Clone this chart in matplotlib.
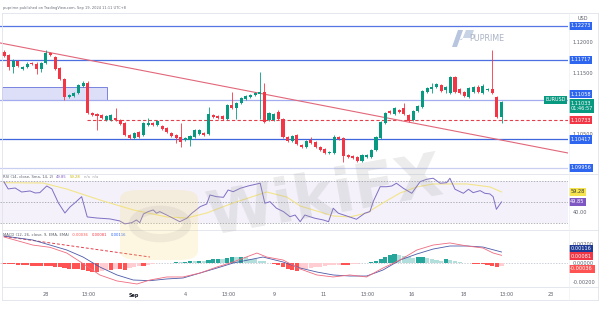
import matplotlib
matplotlib.use("Agg")
import matplotlib.pyplot as plt
from matplotlib.patches import Rectangle, FancyBboxPatch, Polygon, Circle
from matplotlib.transforms import blended_transform_factory

# ---------------- data ----------------
opens = [
    1.11848, 1.11799, 1.11603, 1.11701, 1.11570, 1.11603, 1.11668, 1.11652, 1.11570, 1.11668,
    1.11832, 1.11766, 1.11586, 1.11406, 1.11112, 1.11128, 1.11177, 1.11292, 1.11341, 1.10851,
    1.10834, 1.10818, 1.10736, 1.10736, 1.10769, 1.10736, 1.10687, 1.10491, 1.10442, 1.10540,
    1.10491, 1.10654, 1.10687, 1.10654, 1.10638, 1.10605, 1.10523, 1.10491, 1.10458, 1.10409,
    1.10409, 1.10458, 1.10507, 1.10523, 1.10507, 1.10818, 1.10801, 1.10801, 1.10752, 1.10981,
    1.10932, 1.11014, 1.11079, 1.11112, 1.11145, 1.11161, 1.11194, 1.10736, 1.10736, 1.10867,
    1.10752, 1.10458, 1.10393, 1.10491, 1.10327, 1.10294, 1.10409, 1.10376, 1.10294, 1.10262,
    1.10196, 1.10196, 1.10458, 1.10442, 1.10164, 1.10147, 1.10131, 1.10066, 1.10131, 1.10131,
    1.10245, 1.10442, 1.10687, 1.10883, 1.10834, 1.10900, 1.10932, 1.10818, 1.10736, 1.10883,
    1.10949, 1.11194, 1.11243, 1.11275, 1.11308, 1.11226, 1.11177, 1.11438, 1.11243, 1.11194,
    1.11112, 1.11194, 1.11275, 1.11177, 1.11226, 1.11243, 1.11112, 1.10785]
highs = [
    1.11881, 1.11815, 1.11733, 1.11717, 1.11619, 1.11684, 1.11684, 1.11684, 1.11684, 1.11881,
    1.11848, 1.11782, 1.11603, 1.11422, 1.11161, 1.11194, 1.11324, 1.11374, 1.11374, 1.10867,
    1.10851, 1.10834, 1.10818, 1.10834, 1.10932, 1.10752, 1.10703, 1.10507, 1.10540, 1.10556,
    1.10703, 1.10769, 1.10703, 1.10736, 1.10654, 1.10621, 1.10540, 1.10507, 1.10687, 1.10458,
    1.10491, 1.10589, 1.10589, 1.10540, 1.10949, 1.10834, 1.10818, 1.10818, 1.10998, 1.11194,
    1.11031, 1.11112, 1.11145, 1.11161, 1.11194, 1.11521, 1.11341, 1.10867, 1.10851, 1.10900,
    1.10769, 1.10474, 1.10491, 1.10507, 1.10344, 1.10409, 1.10458, 1.10393, 1.10311, 1.10278,
    1.10229, 1.10491, 1.10474, 1.10458, 1.10180, 1.10164, 1.10147, 1.10180, 1.10180, 1.10262,
    1.10474, 1.10720, 1.10867, 1.10900, 1.10949, 1.10916, 1.11014, 1.10834, 1.10900, 1.10981,
    1.11226, 1.11275, 1.11341, 1.11341, 1.11324, 1.11292, 1.11455, 1.11455, 1.11259, 1.11210,
    1.11275, 1.11292, 1.11308, 1.11324, 1.11259, 1.11881, 1.11128, 1.11047]
lows = [
    1.11766, 1.11553, 1.11504, 1.11603, 1.11553, 1.11586, 1.11635, 1.11488, 1.11521, 1.11652,
    1.11782, 1.11553, 1.11390, 1.11063, 1.11096, 1.11112, 1.11161, 1.11275, 1.10834, 1.10801,
    1.10572, 1.10752, 1.10720, 1.10720, 1.10720, 1.10654, 1.10474, 1.10425, 1.10425, 1.10442,
    1.10474, 1.10638, 1.10638, 1.10638, 1.10572, 1.10523, 1.10458, 1.10360, 1.10294, 1.10393,
    1.10311, 1.10442, 1.10491, 1.10474, 1.10491, 1.10769, 1.10752, 1.10736, 1.10736, 1.10916,
    1.10752, 1.10998, 1.11063, 1.11096, 1.11128, 1.10752, 1.10687, 1.10720, 1.10720, 1.10736,
    1.10442, 1.10376, 1.10376, 1.10327, 1.10278, 1.10278, 1.10344, 1.10278, 1.10229, 1.10180,
    1.10180, 1.10180, 1.10409, 1.10049, 1.10115, 1.10098, 1.10049, 1.10049, 1.10115, 1.10115,
    1.10229, 1.10425, 1.10671, 1.10834, 1.10818, 1.10851, 1.10818, 1.10703, 1.10720, 1.10867,
    1.10932, 1.11177, 1.11177, 1.11259, 1.11194, 1.11177, 1.11161, 1.11177, 1.11161, 1.11112,
    1.11096, 1.11177, 1.11177, 1.11161, 1.11210, 1.11161, 1.10769, 1.10687]
closes = [
    1.11782, 1.11603, 1.11701, 1.11619, 1.11603, 1.11652, 1.11652, 1.11570, 1.11668, 1.11832,
    1.11799, 1.11570, 1.11406, 1.11112, 1.11145, 1.11177, 1.11308, 1.11341, 1.10851, 1.10818,
    1.10801, 1.10769, 1.10801, 1.10818, 1.10736, 1.10671, 1.10491, 1.10442, 1.10523, 1.10458,
    1.10687, 1.10687, 1.10654, 1.10720, 1.10589, 1.10540, 1.10474, 1.10442, 1.10376, 1.10442,
    1.10474, 1.10572, 1.10572, 1.10491, 1.10834, 1.10785, 1.10769, 1.10752, 1.10981, 1.10932,
    1.11014, 1.11096, 1.11128, 1.11145, 1.11177, 1.11194, 1.10703, 1.10851, 1.10834, 1.10752,
    1.10458, 1.10393, 1.10474, 1.10344, 1.10294, 1.10393, 1.10360, 1.10294, 1.10245, 1.10196,
    1.10213, 1.10458, 1.10425, 1.10147, 1.10131, 1.10115, 1.10066, 1.10164, 1.10164, 1.10245,
    1.10458, 1.10703, 1.10851, 1.10851, 1.10932, 1.10867, 1.10834, 1.10720, 1.10883, 1.10965,
    1.11210, 1.11259, 1.11275, 1.11324, 1.11210, 1.11275, 1.11438, 1.11194, 1.11177, 1.11128,
    1.11259, 1.11275, 1.11194, 1.11292, 1.11243, 1.11177, 1.10785, 1.11033]

h_levels = [1.12273, 1.11717, 1.11058, 1.10417, 1.09956]
zone_x = [-0.4, 22.2]
zone_p = [1.11058, 1.11275]
dash_level = 1.10733
dash_start = 17.8
trend_x = [-0.86, 121.3]
trend_p = [1.11996, 1.10196]
last_price = 1.11033
countdown = "01:46:57"
plain_price_ticks = [1.12000, 1.11500, 1.10500]

rsi_x = [0, 0.9, 2.4, 3.8, 5.6, 6.7, 7.7, 9.2, 10.3, 11.7,
         13.1, 14.2, 15.3, 16.7, 17.9, 19.9, 22.8, 24.9, 26, 27.5,
         28.5, 29.2, 30, 31, 32.1, 32.8, 33.5, 35, 36.4, 37.8,
         39.3, 40.4, 42.2, 43.6, 44.3, 45.7, 47.2, 48.2, 49.3, 50.8,
         52.5, 55.1, 56.1, 57.2, 58.6, 60.1, 61.5, 62.6, 63.7, 64.7,
         65.8, 66.9, 68.7, 69.8, 70.8, 71.9, 73.7, 75.8, 77.6, 78.7,
         79.4, 80.9, 82.3, 83.4, 84.4, 85.9, 87.7, 89.5, 90.9, 92.3,
         93.8, 95.2, 95.9, 97, 98.8, 99.9, 100.9, 102.4, 103.4, 104.5,
         105.2, 105.9, 107]
rsi_v = [68.7, 62.1, 63.0, 59.2, 60.2, 58.3, 58.6, 64.9, 62.1, 48.9,
         39.4, 45.1, 49.2, 54.8, 35.7, 34.7, 33.8, 31.9, 29.1, 30.3,
         32.8, 30.3, 38.5, 40.7, 42.3, 39.2, 40.7, 37.5, 34.4, 31.2,
         34.4, 39.2, 45.4, 47.9, 56.4, 54.8, 54.2, 61.1, 59.5, 62.7,
         64.9, 67.5, 48.6, 50.1, 43.9, 40.7, 35.9, 37.5, 31.2, 37.5,
         35.9, 34.4, 32.8, 31.2, 43.9, 39.2, 36.6, 33.5, 39.2, 40.7,
         50.1, 64.2, 64.2, 64.9, 67.5, 62.7, 58.0, 69.0, 71.2, 72.2,
         67.5, 68.0, 72.2, 61.8, 58.0, 61.8, 58.6, 60.5, 58.0, 57.4,
         54.8, 42.9, 49.85]
rsi_ma_x = [0, 8.4, 13.5, 20.6, 27.8, 35, 39.3, 43.6, 49.3, 56.5, 60.8,
            63.7, 70.8, 74.4, 78, 81.5, 85.2, 88.8, 92.3, 99.6, 104.5, 107]
rsi_ma_v = [68, 67.7, 62, 51.7, 42.3, 35.7, 34.7, 39.4, 48.9, 59.2, 54.5,
            46, 36.6, 35.7, 39.4, 48.9, 58.3, 64, 66.8, 66.8, 64, 59.28]

macd_x = [0, 6.2, 9.9, 13.5, 17.8, 20.6, 24.3, 28.6, 31.4, 35, 38.5, 42.2, 45.8,
          49.3, 54.4, 56.5, 60, 63.7, 67.3, 70.8, 74.4, 78, 81.5, 85.2, 88.8, 92.3,
          95.9, 99.6, 103, 105.2, 107]
macd_v = [0.00274, 0.00189, 0.00165, 0.00105, -0.00032, -0.00126, -0.00189, -0.00221,
          -0.00179, -0.00147, -0.00147, -0.00105, -0.00042, 0.00011, 0.00105, 0.00063,
          0.00032, -0.00063, -0.00126, -0.00147, -0.00126, -0.00147, -0.00053, 0.00032,
          0.00137, 0.00189, 0.00211, 0.00179, 0.00158, 0.00105, 0.00081]
signal_x = [0, 6.2, 9.9, 13.5, 17, 20.6, 24.3, 27.8, 31.4, 35, 38.5, 42.2, 45.8, 49.3,
            55.7, 60, 63.7, 67.3, 70.8, 74.4, 78, 81.5, 85.2, 88.8, 92.3, 95.9, 99.6,
            103, 107]
signal_v = [0.00284, 0.00242, 0.00189, 0.00137, 0.00063, -0.00042, -0.00126, -0.00179,
            -0.00186, -0.00168, -0.00158, -0.00105, -0.00053, 0.0, 0.00063, 0.00011,
            -0.00053, -0.00095, -0.00126, -0.00137, -0.00137, -0.00074, 0.00032, 0.00095,
            0.00147, 0.00179, 0.00179, 0.00168, 0.00116]
hist = [
    -0.00011, -0.00011, -0.00011, -0.00021, -0.00021, -0.00021, -0.00032, -0.00032, -0.00032, -0.00032,
    -0.00032, -0.00042, -0.00042, -0.00053, -0.00063, -0.00063, -0.00063, -0.00074, -0.00084, -0.00095,
    -0.00095, -0.00084, -0.00074, -0.00074, -0.00063, -0.00063, -0.00074, -0.00053, -0.00042, -0.00032,
    -0.00032, -0.00021, -0.00011, 0.00005, 0.00005, 0.00005, 0.00005, 0.00007, 0.00007, 0.00011,
    0.00016, 0.00016, 0.00021, 0.00021, 0.00032, 0.00037, 0.00042, 0.00042, 0.00053, 0.00058,
    0.00058, 0.00063, 0.00058, 0.00047, 0.00037, 0.00026, 0.00016, 0.00005, -0.00011, -0.00021,
    -0.00042, -0.00063, -0.00074, -0.00079, -0.00068, -0.00063, -0.00053, -0.00047, -0.00042, -0.00032,
    -0.00026, -0.00021, -0.00016, -0.00016, -0.00016, -0.00011, -0.00008, -0.00003, 0.00003, 0.00011,
    0.00026, 0.00042, 0.00063, 0.00079, 0.00095, 0.00084, 0.00074, 0.00063, 0.00053, 0.00063,
    0.00068, 0.00053, 0.00042, 0.00032, 0.00021, 0.00042, 0.00032, 0.00021, 0.00013, 0.00005,
    -0.00005, -0.00007, -0.00007, -0.00011, -0.00016, -0.00032, -0.00042, -0.00036]
macd_dash_x = [0, 31.4]
macd_dash_v = [0.0028, 0.00063]

tick_pos = [9.0, 18.1, 28.0, 39.1, 48.2, 58.1, 68.8, 78.1, 87.7, 98.9, 108.0, 117.6]
tick_lab = ['28', '13:00', 'Sep', '4', '13:00', '9', '11', '13:00', '16', '18', '13:00', '23']

# ---------------- figure ----------------
W, H = 600, 315
fig = plt.figure(figsize=(6, 3.15), dpi=100)
fig.patch.set_facecolor('white')
renderer = fig.canvas.get_renderer()


def add_ax(x0, y0, x1, y1):
    a = fig.add_axes([x0 / W, 1 - y1 / H, (x1 - x0) / W, (y1 - y0) / H])
    a.set_axis_off()
    a.set_xlim(-0.86, 121.3)
    return a


def ftext(x, y, s, **kw):
    return fig.text(x / W, 1 - y / H, s, **kw)


def fline(x0, y0, x1, y1, **kw):
    fig.add_artist(plt.Line2D([x0 / W, x1 / W], [1 - y0 / H, 1 - y1 / H], **kw))


def seq_text(x, y, parts, fs=2.7, gap=3):
    cur = x
    for s, c in parts:
        t = ftext(cur, y, s, fontsize=fs, color=c, va='center')
        bb = t.get_window_extent(renderer=renderer)
        cur = bb.x1 + gap


GREEN = '#089981'
RED = '#f23645'
TXT = '#5d606b'

ax = add_ax(0, 14, 568, 173)
ax.set_ylim(1.09869, 1.12469)
axr = add_ax(0, 174, 568, 229)
axr.set_ylim(24.3, 76.2)
axm = add_ax(0, 230, 568, 287)
axm.set_ylim(-0.002526, 0.003474)

# frame / separators
for yy in (13, 173.5, 229.5, 287, 300):
    fline(2, yy, 598, yy, color='#e0e3eb', lw=0.6)
fline(2, 13, 2, 300, color='#e0e3eb', lw=0.6)
fline(598, 13, 598, 300, color='#e0e3eb', lw=0.6)
fline(568.5, 13, 568.5, 300, color='#eef0f4', lw=0.5)

# ---- main pane ----
ax.add_patch(Rectangle((zone_x[0], zone_p[0]), zone_x[1] - zone_x[0], zone_p[1] - zone_p[0],
                       facecolor='#dcdff7', edgecolor='#7884df', lw=0.7, zorder=1))
lvl_colors = ['#5476e4', '#4c70e2', '#a3acee', '#3f66dc', '#c9cff0']
for lv, cc in zip(h_levels, lvl_colors):
    ax.axhline(lv, color=cc, lw=0.9, zorder=2)
ax.plot([dash_start, 121.3], [dash_level, dash_level], color='#e4404b', lw=0.8,
        ls=(0, (3, 2)), zorder=2)
ax.plot(trend_x, trend_p, color='#e2677a', lw=0.8, zorder=2)

xs = list(range(len(opens)))
cols = [GREEN if c >= o else RED for o, c in zip(opens, closes)]
ax.vlines(xs, lows, highs, colors=cols, lw=0.6, zorder=3)
bottoms = [min(o, c) for o, c in zip(opens, closes)]
heights = [max(abs(c - o), 0.00012) for o, c in zip(opens, closes)]
ax.bar(xs, heights, bottom=bottoms, width=0.66, color=cols, zorder=4, linewidth=0)


# ---- right price scale ----
def tag(axis, yval, text, fc, tc='white', dy=0, fs=3.6, pad=0.32):
    tr = blended_transform_factory(axis.transAxes, axis.transData)
    axis.annotate(text, xy=(1, yval), xycoords=tr, xytext=(1.6, -dy * 0.72),
                  textcoords='offset points', ha='left', va='center', fontsize=fs,
                  color=tc, annotation_clip=False, zorder=20, linespacing=1.15,
                  bbox=dict(boxstyle='square,pad=%f' % pad, fc=fc, ec='none'))


def plain(axis, yval, text, dy=0, fs=3.6):
    tr = blended_transform_factory(axis.transAxes, axis.transData)
    axis.annotate(text, xy=(1, yval), xycoords=tr, xytext=(3.2, -dy * 0.72),
                  textcoords='offset points', ha='left', va='center', fontsize=fs,
                  color=TXT, annotation_clip=False, zorder=15)


ftext(578, 18, 'USD', fontsize=3.6, color=TXT, va='center')
for p in plain_price_ticks:
    plain(ax, p, '%.5f' % p)
BLUE_TAG = '#2f66f0'
tag(ax, h_levels[0], '%.5f' % h_levels[0], BLUE_TAG)
tag(ax, h_levels[1], '%.5f' % h_levels[1], BLUE_TAG)
tag(ax, h_levels[2], '%.5f' % h_levels[2], BLUE_TAG, dy=-6)
tag(ax, last_price, '%.5f\n%s' % (last_price, countdown), GREEN, dy=4)
tag(ax, dash_level, '%.5f' % dash_level, RED)
tag(ax, h_levels[3], '%.5f' % h_levels[3], BLUE_TAG)
tag(ax, h_levels[4], '%.5f' % h_levels[4], BLUE_TAG)
ax.annotate('EURUSD', xy=(1, last_price), xycoords=blended_transform_factory(ax.transAxes, ax.transData),
            xytext=(-1.6, 1.5), textcoords='offset points', ha='right', va='center', fontsize=3.5,
            color='white', annotation_clip=False, zorder=20,
            bbox=dict(boxstyle='square,pad=0.3', fc=GREEN, ec='none'))

# ---- RSI pane ----
axr.axhspan(30, 70, color='#7e57c2', alpha=0.08, lw=0, zorder=0)
for lv in (70, 50, 30):
    axr.axhline(lv, color='#9598a1', lw=0.5, ls=(0, (2, 2)), zorder=1)
axr.plot(rsi_ma_x, rsi_ma_v, color='#f3e58a', lw=0.8, zorder=2)
axr.plot(rsi_x, rsi_v, color='#7e6fc4', lw=0.7, zorder=3)
plain(axr, 40, '40.00')
tag(axr, rsi_ma_v[-1], '%.2f' % rsi_ma_v[-1], '#f5e44f', tc='#333333')
tag(axr, rsi_v[-1], '%.2f' % rsi_v[-1], '#7e57c2')

# ---- MACD pane ----
axm.axhline(0, color='#b8bcc8', lw=0.5, ls=(0, (2, 2)), zorder=1)
hcols = []
for i, hv in enumerate(hist):
    prev = hist[i - 1] if i > 0 else hv
    if hv >= 0:
        hcols.append('#26a69a' if hv > prev else '#b2dfdb')
    else:
        hcols.append('#ffcdd2' if hv > prev else '#ff5252')
axm.bar(range(len(hist)), hist, width=0.9, color=hcols, linewidth=0, zorder=2)
axm.plot(macd_dash_x, macd_dash_v, color='#e4404b', lw=0.7, ls=(0, (3, 2)), zorder=3)
axm.plot(signal_x, signal_v, color='#4b5aa8', lw=0.6, zorder=4)
axm.plot(macd_x, macd_v, color='#ef6b7f', lw=0.6, zorder=4)
plain(axm, 0.002, '0.00200')
plain(axm, 0.0, '0.00000')
plain(axm, -0.002, '-0.00200')
tag(axm, signal_v[-1], '%.5f' % signal_v[-1], '#1d3a96', dy=-3)
tag(axm, macd_v[-1], '%.5f' % macd_v[-1], RED, dy=1)
tag(axm, hist[-1], '%.5f' % hist[-1], '#ff5252', dy=2.5)

# ---- time axis ----
tr_t = blended_transform_factory(axm.transData, fig.transFigure)
for tp, tl in zip(tick_pos, tick_lab):
    fig.text(tp, 1 - 295 / H, tl, transform=tr_t, ha='center', va='center', fontsize=3.5,
             color='#131722' if tl == 'Sep' else TXT, fontweight='bold' if tl == 'Sep' else 'normal')

# ---- header texts ----
ftext(3, 8.5, 'puprime published on TradingView.com, Sep 19, 2024 11:11 UTC+8',
      fontsize=2.6, color='#6a6d78', va='center')
seq_text(3, 176.5, [('RSI (14, close, Sma, 14, 2)', TXT), ('49.85', '#7e57c2'),
                    ('59.28', '#c9b200'), ('n/a  n/a', '#a0a3ab')])
seq_text(3, 235.5, [('MACD (12, 26, close, 9, EMA, EMA)', TXT), ('-0.00036', '#ff5252'),
                    ('0.00081', RED), ('0.00116', '#2962ff')])

# ---- watermarks ----
fig.add_artist(Polygon([(452 / W, 1 - 47 / H), (457 / W, 1 - 47 / H), (463 / W, 1 - 30 / H),
                        (458 / W, 1 - 30 / H)], closed=True, fc='#b8c5df', ec='none'))
fig.add_artist(Polygon([(459 / W, 1 - 40 / H), (462 / W, 1 - 40 / H), (466 / W, 1 - 30 / H),
                        (474 / W, 1 - 30 / H), (471 / W, 1 - 38 / H), (463 / W, 1 - 38 / H)],
                       closed=True, fc='#c9d3e6', ec='none'))
ftext(469, 38.5, 'PUPRIME', fontsize=5.8, color='#aab3c5', va='center')

fig.add_artist(FancyBboxPatch((120 / W, 1 - 260 / H), 78 / W, 70 / H,
                              boxstyle='round,pad=0,rounding_size=0.03',
                              fc='#f6d86a', ec='none', alpha=0.2, zorder=30))
fig.add_artist(Circle((160 / W, 1 - 224 / H), 0.045, transform=fig.transFigure,
                      fc='none', ec='#9a9a9a', lw=6, alpha=0.14, zorder=31))
ftext(325, 198, 'WikiFX', fontsize=44, fontweight='bold', color='#a0a0a0', alpha=0.2,
      ha='center', va='center', rotation=10, zorder=32)

fig.savefig('out.png', dpi=100, facecolor='white')
